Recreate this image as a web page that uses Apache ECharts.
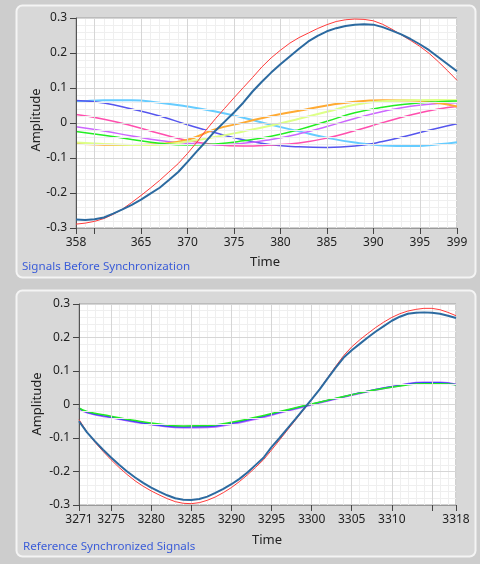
<!DOCTYPE html>
<html>
<head>
<meta charset="utf-8">
<script src="https://cdn.jsdelivr.net/npm/echarts@6/dist/echarts.min.js"></script>
<style>
html,body{margin:0;padding:0;background:#cdcdcd;}
#c{width:480px;height:564px;}
</style>
</head>
<body>
<div id="c"></div>
<script>
// ---------- Top panel: Signals Before Synchronization ----------
const topTimes = [358,359,360,361,362,363,364,365,366,367,368,369,370,371,372,373,374,375,376,377,378,379,380,381,382,383,384,385,386,387,388,389,390,391,392,393,394,395,396,397,398,399];
const topRed = [-0.289,-0.286,-0.281,-0.273,-0.261,-0.246,-0.227,-0.207,-0.186,-0.164,-0.140,-0.116,-0.087,-0.055,-0.020,0.012,0.042,0.072,0.101,0.130,0.160,0.186,0.208,0.228,0.244,0.257,0.270,0.281,0.290,0.295,0.297,0.296,0.292,0.282,0.268,0.252,0.236,0.219,0.199,0.175,0.149,0.122];
const topBlue = [-0.276,-0.277,-0.275,-0.270,-0.259,-0.247,-0.234,-0.219,-0.202,-0.185,-0.163,-0.140,-0.111,-0.081,-0.052,-0.022,0.004,0.030,0.058,0.090,0.118,0.144,0.168,0.190,0.212,0.233,0.249,0.262,0.271,0.277,0.281,0.282,0.281,0.274,0.264,0.253,0.240,0.225,0.208,0.188,0.168,0.148];

const topSlowTimes = [358,361,364,367,370,373,376,379,382,385,388,391,394,397,399];
const topSky    = [0.060,0.065,0.065,0.058,0.047,0.033,0.015,-0.005,-0.024,-0.042,-0.056,-0.064,-0.066,-0.061,-0.055];
const topIndigo = [0.064,0.057,0.040,0.020,-0.005,-0.028,-0.048,-0.062,-0.068,-0.070,-0.066,-0.053,-0.034,-0.014,-0.002];
const topPink   = [0.024,0.011,-0.008,-0.030,-0.050,-0.062,-0.066,-0.063,-0.057,-0.043,-0.022,0.001,0.023,0.040,0.047];
const topViolet = [-0.011,-0.023,-0.037,-0.050,-0.058,-0.062,-0.058,-0.047,-0.031,-0.010,0.013,0.033,0.048,0.056,0.058];
const topGreen  = [-0.024,-0.035,-0.047,-0.058,-0.063,-0.060,-0.051,-0.038,-0.019,0.005,0.029,0.045,0.055,0.061,0.063];
const topLime   = [-0.056,-0.060,-0.063,-0.062,-0.053,-0.040,-0.024,-0.007,0.012,0.032,0.052,0.062,0.065,0.066,0.065];
const topOrange = [-0.059,-0.062,-0.063,-0.060,-0.048,-0.018,0.001,0.020,0.035,0.050,0.061,0.065,0.064,0.057,0.047];

const topTicks  = [358,360,365,370,375,380,385,390,395,399];
const topLabels = [358,365,370,375,380,385,390,395,399];

// ---------- Bottom panel: Reference Synchronized Signals ----------
const botTimes = [3271,3272,3273,3274,3275,3276,3277,3278,3279,3280,3281,3282,3283,3284,3285,3286,3287,3288,3289,3290,3291,3292,3293,3294,3295,3296,3297,3298,3299,3300,3301,3302,3303,3304,3305,3306,3307,3308,3309,3310,3311,3312,3313,3314,3315,3316,3317,3318];
const botRed = [-0.045,-0.082,-0.113,-0.140,-0.165,-0.188,-0.209,-0.228,-0.244,-0.258,-0.270,-0.281,-0.290,-0.295,-0.296,-0.293,-0.286,-0.276,-0.263,-0.248,-0.230,-0.210,-0.188,-0.165,-0.136,-0.106,-0.076,-0.046,-0.016,0.014,0.046,0.080,0.114,0.146,0.172,0.193,0.212,0.230,0.246,0.260,0.271,0.279,0.284,0.287,0.287,0.283,0.275,0.265];
const botBlue = [-0.050,-0.083,-0.110,-0.135,-0.158,-0.180,-0.200,-0.218,-0.234,-0.248,-0.260,-0.271,-0.280,-0.284,-0.285,-0.282,-0.275,-0.264,-0.252,-0.238,-0.222,-0.203,-0.181,-0.159,-0.127,-0.100,-0.071,-0.043,-0.014,0.015,0.045,0.078,0.110,0.140,0.162,0.181,0.200,0.218,0.234,0.250,0.262,0.271,0.274,0.275,0.274,0.271,0.265,0.258];

const botSlowTimes = [3271,3272,3275,3278,3281,3284,3287,3290,3293,3296,3299,3302,3305,3308,3311,3314,3316,3318];
const botViolet = [-0.012,-0.024,-0.039,-0.052,-0.063,-0.069,-0.068,-0.058,-0.043,-0.025,-0.007,0.011,0.028,0.044,0.057,0.066,0.066,0.060];
const botBlueS  = [-0.011,-0.023,-0.038,-0.051,-0.062,-0.067,-0.066,-0.056,-0.041,-0.023,-0.005,0.012,0.029,0.045,0.057,0.065,0.065,0.059];
const botGreen  = [-0.010,-0.021,-0.035,-0.048,-0.058,-0.064,-0.063,-0.053,-0.038,-0.021,-0.004,0.013,0.029,0.044,0.055,0.062,0.062,0.059];

const botTicks  = [3271,3275,3280,3285,3290,3295,3300,3305,3310,3315,3318];
const botLabels = [3271,3275,3280,3285,3290,3295,3300,3305,3310,3318];

// ---------- build ----------
function pairs(xs, ys){ return xs.map((x,i)=>[x, ys[i]]); }
const FONT = 'Noto Sans';

function yAxis(gi){
  return {
    type:'value', gridIndex:gi, min:-0.3, max:0.3, interval:0.1,
    axisLine:{show:true, lineStyle:{color:'#555', width:1}},
    axisTick:{show:true, length:6, lineStyle:{color:'#444'}},
    axisLabel:{color:'#222', fontFamily:FONT, fontSize:12, margin:9,
      formatter:v=>{ const r=Math.round(v*10)/10; return r===0?'0':String(r);} },
    splitLine:{show:true, lineStyle:{color:'#d6d6d6', width:1}},
    minorTick:{show:false, splitNumber:5},
    minorSplitLine:{show:true, lineStyle:{color:'#efefef', width:1}},
    z:3
  };
}
function xMain(gi, min, max, ticks, labels){
  return {
    type:'value', gridIndex:gi, min:min, max:max, interval:1,
    axisLine:{show:true, onZero:false, lineStyle:{color:'#9a9a9a'}},
    axisTick:{show:true, length:6, customValues:ticks, lineStyle:{color:'#444'}},
    axisLabel:{show:true, customValues:labels, color:'#222', fontFamily:FONT, fontSize:12, margin:9,
      formatter:v=>String(v)},
    splitLine:{show:true, lineStyle:{color:'#d6d6d6', width:1}},
    z:3
  };
}
function xMinor(gi, min, max){
  return {
    type:'value', gridIndex:gi, min:min, max:max, interval:1,
    axisLine:{show:false}, axisTick:{show:false}, axisLabel:{show:false},
    splitLine:{show:true, lineStyle:{color:'#efefef', width:1}},
    z:1
  };
}
function line(xi, yi, data, color, width, smooth, z){
  return {type:'line', xAxisIndex:xi, yAxisIndex:yi, data:data, showSymbol:false, symbol:'none',
    smooth:smooth, lineStyle:{color:color, width:width}, itemStyle:{color:color},
    silent:true, animation:false, z:z||2};
}

const chart = echarts.init(document.getElementById('c'), null, {renderer:'canvas'});
const option = {
  backgroundColor:'#cdcdcd',
  animation:false,
  grid:[
    {left:76, top:18, width:381, height:210, show:true, backgroundColor:'#ffffff', borderColor:'#a0a0a0', borderWidth:1, containLabel:false},
    {left:79, top:304, width:377, height:201, show:true, backgroundColor:'#ffffff', borderColor:'#a0a0a0', borderWidth:1, containLabel:false}
  ],
  xAxis:[
    xMain(0, 358, 399, topTicks, topLabels),
    xMinor(0, 358, 399),
    xMain(1, 3271, 3318, botTicks, botLabels),
    xMinor(1, 3271, 3318)
  ],
  yAxis:[yAxis(0), yAxis(1)],
  series:[
    line(0,0,pairs(topSlowTimes, topSky),   '#66ccff', 2, 0.5),
    line(0,0,pairs(topSlowTimes, topIndigo),'#5555ee', 1.5, 0.5),
    line(0,0,pairs(topSlowTimes, topPink),  '#ff4fae', 1.5, 0.5),
    line(0,0,pairs(topSlowTimes, topViolet),'#cc66ff', 1.5, 0.5),
    line(0,0,pairs(topSlowTimes, topOrange),'#ffaa33', 2, 0.5),
    line(0,0,pairs(topSlowTimes, topLime),  '#ddff88', 2, 0.5),
    line(0,0,pairs(topSlowTimes, topGreen), '#22ee22', 1.5, 0.5),
    line(0,0,pairs(topTimes, topRed),  '#ff3b3b', 1, false, 3),
    line(0,0,pairs(topTimes, topBlue), '#2c6aa0', 2, false, 4),

    line(2,1,pairs(botSlowTimes, botViolet),'#bb66ff', 2, 0.5),
    line(2,1,pairs(botSlowTimes, botBlueS), '#4040ff', 1.5, 0.5),
    line(2,1,pairs(botSlowTimes, botGreen), '#22ee22', 1.5, 0.5),
    line(2,1,pairs(botTimes, botRed),  '#ff3b3b', 1, false, 3),
    line(2,1,pairs(botTimes, botBlue), '#2c6aa0', 2, false, 4)
  ],
  graphic:[
    {type:'rect', z:-10, shape:{x:16.5, y:5.5, width:459, height:272, r:6}, style:{fill:'#d8d8d8', stroke:'#f4f4f4', lineWidth:2}},
    {type:'rect', z:-10, shape:{x:16.5, y:290.5, width:459, height:266, r:6}, style:{fill:'#d8d8d8', stroke:'#f4f4f4', lineWidth:2}},
    {type:'text', z:100, x:265, y:262, style:{text:'Time', fill:'#222', font:'13px "Noto Sans"', align:'center', verticalAlign:'middle'}},
    {type:'text', z:100, x:267, y:540, style:{text:'Time', fill:'#222', font:'13px "Noto Sans"', align:'center', verticalAlign:'middle'}},
    {type:'text', z:100, x:36, y:120, rotation:Math.PI/2, style:{text:'Amplitude', fill:'#222', font:'13px "Noto Sans"', align:'center', verticalAlign:'middle'}},
    {type:'text', z:100, x:37, y:404, rotation:Math.PI/2, style:{text:'Amplitude', fill:'#222', font:'13px "Noto Sans"', align:'center', verticalAlign:'middle'}},
    {type:'text', z:100, x:22, y:267, style:{text:'Signals Before Synchronization', fill:'#3a5cd8', font:'11.6px "Noto Sans"', align:'left', verticalAlign:'middle'}},
    {type:'text', z:100, x:23, y:547, style:{text:'Reference Synchronized Signals', fill:'#3a5cd8', font:'11.6px "Noto Sans"', align:'left', verticalAlign:'middle'}}
  ]
};
chart.setOption(option);
</script>
</body>
</html>
